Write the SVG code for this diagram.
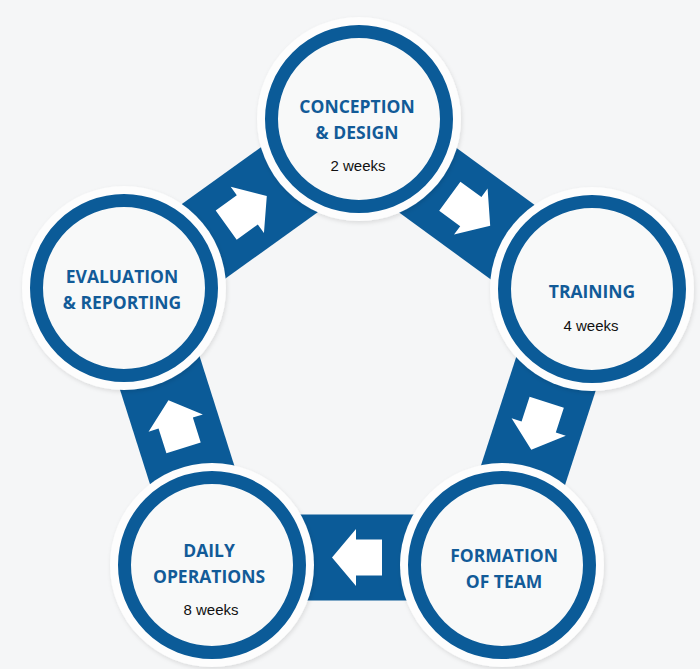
<svg xmlns="http://www.w3.org/2000/svg" width="700" height="669" viewBox="0 0 700 669">
<defs>
<style>
.band{fill:#0b5b98}
.arr{fill:#ffffff}
.halo{fill:#fdfdfd;filter:url(#sh)}
.ring{fill:#f8f9f9;stroke:#0b5b98;stroke-width:13}
.t{font-family:"Open Sans","Liberation Sans",sans-serif;font-weight:700;font-size:17.5px;fill:#125b98;text-anchor:middle}
.w{font-family:"Liberation Sans",Arial,sans-serif;font-size:15px;fill:#111;text-anchor:middle}
</style>
<filter id="sh" x="-20%" y="-20%" width="140%" height="140%">
<feDropShadow dx="1" dy="2" stdDeviation="2" flood-color="#000" flood-opacity="0.11"/>
</filter>
<path id="arrow" d="M25,0 L1,-28.5 L1,-18 L-25,-18 L-25,18 L1,18 L1,28.5 Z"/>
</defs>
<rect width="700" height="669" fill="#f5f6f7"/>
<g id="connectors">
<g transform="translate(246.5,210.5) rotate(-35.7)"><rect class="band" x="-142" y="-43" width="284" height="86"/><use href="#arrow" class="arr"/></g>
<g transform="translate(470,211) rotate(36.1)"><rect class="band" x="-142" y="-43" width="284" height="86"/><use href="#arrow" class="arr"/></g>
<g transform="translate(539,426) rotate(108)"><rect class="band" x="-142" y="-43" width="284" height="86"/><use href="#arrow" class="arr"/></g>
<g transform="translate(357,557.5) rotate(180)"><rect class="band" x="-142" y="-43" width="284" height="86"/><use href="#arrow" class="arr"/></g>
<g transform="translate(176,424) rotate(-107.6)"><rect class="band" x="-142" y="-43" width="284" height="86"/><use href="#arrow" class="arr"/></g>
</g>
<g id="node-conception">
<circle class="halo" cx="359" cy="119" r="102"/>
<circle class="ring" cx="359" cy="119" r="87.5"/>
<text class="t" x="357" y="113">CONCEPTION</text>
<text class="t" x="357" y="139">&amp; DESIGN</text>
<text class="w" x="358" y="171">2 weeks</text>
</g>
<g id="node-training">
<circle class="halo" cx="592" cy="289" r="102"/>
<circle class="ring" cx="592" cy="289" r="87.5"/>
<text class="t" x="592" y="297.5">TRAINING</text>
<text class="w" x="591" y="330.5">4 weeks</text>
</g>
<g id="node-formation">
<circle class="halo" cx="502" cy="565" r="102"/>
<circle class="ring" cx="502" cy="565" r="87.5"/>
<text class="t" x="504" y="562">FORMATION</text>
<text class="t" x="504" y="587.5">OF TEAM</text>
</g>
<g id="node-daily">
<circle class="halo" cx="212" cy="565" r="102"/>
<circle class="ring" cx="212" cy="565" r="87.5"/>
<text class="t" x="209" y="557">DAILY</text>
<text class="t" x="209" y="582.5">OPERATIONS</text>
<text class="w" x="211" y="615">8 weeks</text>
</g>
<g id="node-evaluation">
<circle class="halo" cx="124" cy="288" r="102"/>
<circle class="ring" cx="124" cy="288" r="87.5"/>
<text class="t" x="122" y="283">EVALUATION</text>
<text class="t" x="122" y="309">&amp; REPORTING</text>
</g>
</svg>
